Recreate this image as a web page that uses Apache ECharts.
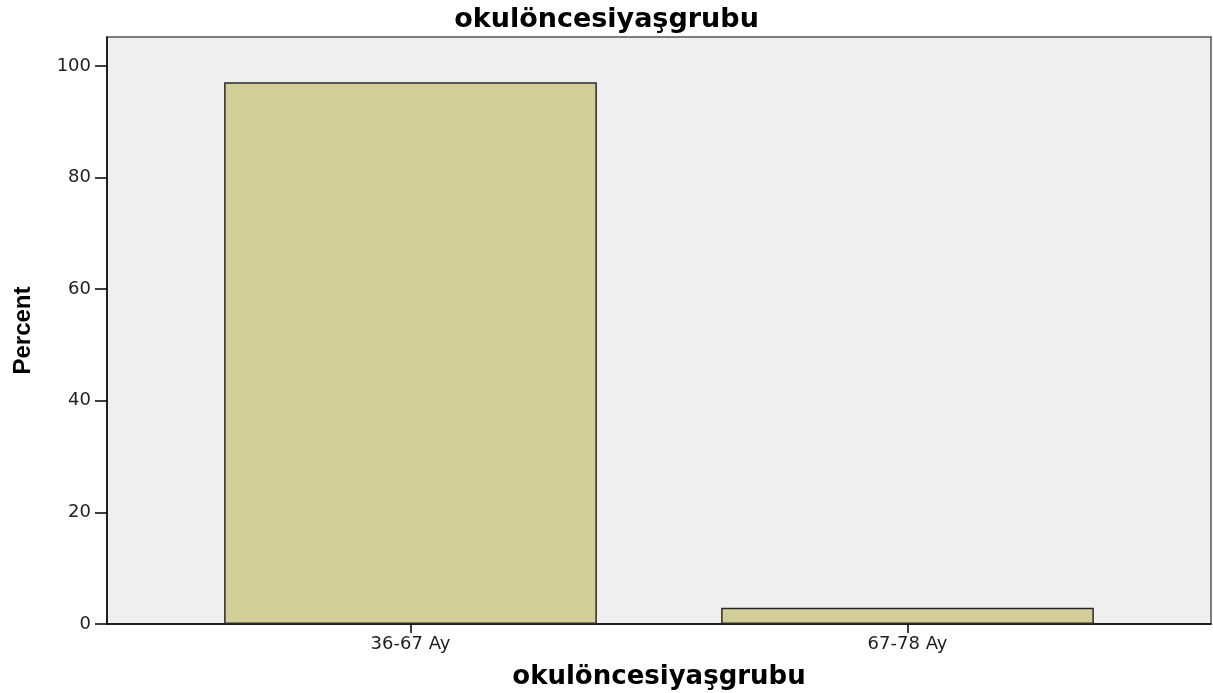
<!DOCTYPE html>
<html>
<head>
<meta charset="utf-8">
<script src="https://cdn.jsdelivr.net/npm/echarts@6/dist/echarts.min.js"></script>
<style>html,body{margin:0;padding:0;background:#fff}#c{width:1213px;height:693px}</style>
</head>
<body>
<div id="c"></div>
<script>
const titleText = 'okulöncesiyaşgrubu';
const xName = 'okulöncesiyaşgrubu';
const yName = 'Percent';
const categories = ['36-67 Ay', '67-78 Ay'];
const percentValues = [97.1, 2.9];
const yTicks = [0, 20, 40, 60, 80, 100];
const yMax = 105.2;

const chart = echarts.init(document.getElementById('c'), null, {renderer: 'canvas'});
chart.setOption({
  animation: false,
  backgroundColor: '#ffffff',
  title: {
    text: titleText,
    left: 'center',
    top: 1,
    textStyle: {fontFamily: 'DejaVu Sans', fontWeight: 'bold', fontSize: 27, color: '#000'}
  },
  grid: [
    {left: 107, right: 2, top: 37, bottom: 69, show: true, backgroundColor: '#efefef', borderColor: '#555', borderWidth: 1.5, containLabel: false, outerBoundsMode: 'none'},
    {left: 162, right: 57, top: 37, bottom: 69, show: false, containLabel: false, outerBoundsMode: 'none'}
  ],
  xAxis: [
    {
      gridIndex: 0, type: 'value', min: 0, max: 1,
      axisLine: {show: true, lineStyle: {color: '#000', width: 1.5}},
      axisTick: {show: false}, axisLabel: {show: false}, splitLine: {show: false},
      name: xName, nameLocation: 'middle', nameGap: 40,
      nameTextStyle: {fontFamily: 'DejaVu Sans', fontWeight: 'bold', fontSize: 26, color: '#000'}
    },
    {
      gridIndex: 1, type: 'category', data: categories, boundaryGap: true,
      axisLine: {show: false},
      axisTick: {show: true, alignWithLabel: true, length: 9, lineStyle: {color: '#000', width: 1.5}},
      axisLabel: {fontFamily: 'DejaVu Sans', fontSize: 18, color: '#222', margin: 11},
      splitLine: {show: false}
    }
  ],
  yAxis: [
    {
      gridIndex: 0, type: 'value', min: 0, max: yMax,
      axisLine: {show: true, lineStyle: {color: '#000', width: 1.5}},
      axisTick: {show: true, length: 12, customValues: yTicks, lineStyle: {color: '#000', width: 1.5}},
      axisLabel: {customValues: yTicks, fontFamily: 'DejaVu Sans', fontSize: 18, color: '#222', margin: 16},
      splitLine: {show: false},
      name: yName, nameLocation: 'middle', nameGap: 72, nameRotate: 90,
      nameTextStyle: {fontFamily: 'Liberation Sans Narrow, Liberation Sans', fontWeight: 'bold', fontSize: 24, color: '#000'}
    },
    {
      gridIndex: 1, type: 'value', min: 0, max: yMax, show: false
    }
  ],
  series: [{
    type: 'bar',
    xAxisIndex: 1, yAxisIndex: 1,
    data: percentValues,
    barWidth: '75%',
    itemStyle: {color: '#d3ce97', borderColor: '#2a2a2a', borderWidth: 1.5}
  }]
});
</script>
</body>
</html>
